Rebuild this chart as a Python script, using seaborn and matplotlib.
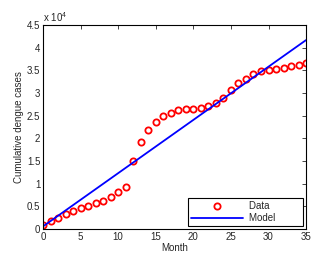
import numpy as np
import pandas as pd
import matplotlib
matplotlib.use("Agg")
import matplotlib.pyplot as plt
import seaborn as sns
from matplotlib.ticker import ScalarFormatter

months = list(range(36))
cases = [930, 1900, 2500, 3400, 4000, 4600, 5100, 5700, 6300, 7100,
         8100, 9300, 15100, 19250, 21950, 23600, 24900, 25700, 26200, 26400,
         26600, 26800, 27200, 27900, 28900, 30600, 32300, 33200, 34300, 34800,
         35200, 35400, 35600, 35900, 36200, 36600]
model_months = [0, 35]
model_cases = [600, 41700]

sns.set_style("white")
plt.rcParams["font.family"] = ["Liberation Sans", "DejaVu Sans"]
plt.rcParams["font.size"] = 7
plt.rcParams["mathtext.fontset"] = "custom"
plt.rcParams["mathtext.rm"] = "Liberation Sans"

df = pd.DataFrame({"Month": months, "Cases": cases})
model = pd.DataFrame({"Month": model_months, "Cases": model_cases})

fig = plt.figure(figsize=(3.36, 2.56), dpi=100)
ax = fig.add_axes([0.128, 0.105, 0.783, 0.797])

ax.plot(df["Month"], df["Cases"], "o", mfc="none", mec="red", mew=1.3,
        ms=4.5, label="Data", linestyle="none")
sns.lineplot(data=model, x="Month", y="Cases", color="blue", lw=1.3,
             label="Model", ax=ax)

ax.set_xlim(0, 35)
ax.set_ylim(0, 45000)
ax.set_xticks(range(0, 36, 5))
ax.set_yticks(np.arange(0, 45001, 5000))
fmt = ScalarFormatter(useMathText=True)
fmt.set_powerlimits((0, 0))
ax.yaxis.set_major_formatter(fmt)
ax.set_yticklabels(["0", "0.5", "1", "1.5", "2", "2.5", "3", "3.5", "4", "4.5"])
ax.text(0.0, 1.005, r"x 10$^{4}$", transform=ax.transAxes, fontsize=7,
        ha="left", va="bottom")

ax.set_xlabel("Month", labelpad=1)
ax.set_ylabel("Cumulative dengue cases", labelpad=2)
ax.tick_params(direction="in", length=3, width=0.6, top=True, right=True,
               labelsize=7, pad=2)
for s in ax.spines.values():
    s.set_linewidth(0.8)
    s.set_color("black")

leg = ax.legend(loc="lower right", fancybox=False, edgecolor="black",
                framealpha=1, fontsize=7, handlelength=5.4, borderpad=0.3,
                labelspacing=0.2, handletextpad=0.6, borderaxespad=0.3)
leg.get_frame().set_linewidth(0.8)
for t in leg.get_texts():
    t.set_text(t.get_text() + "         ")

fig.savefig("out.png", dpi=100)
